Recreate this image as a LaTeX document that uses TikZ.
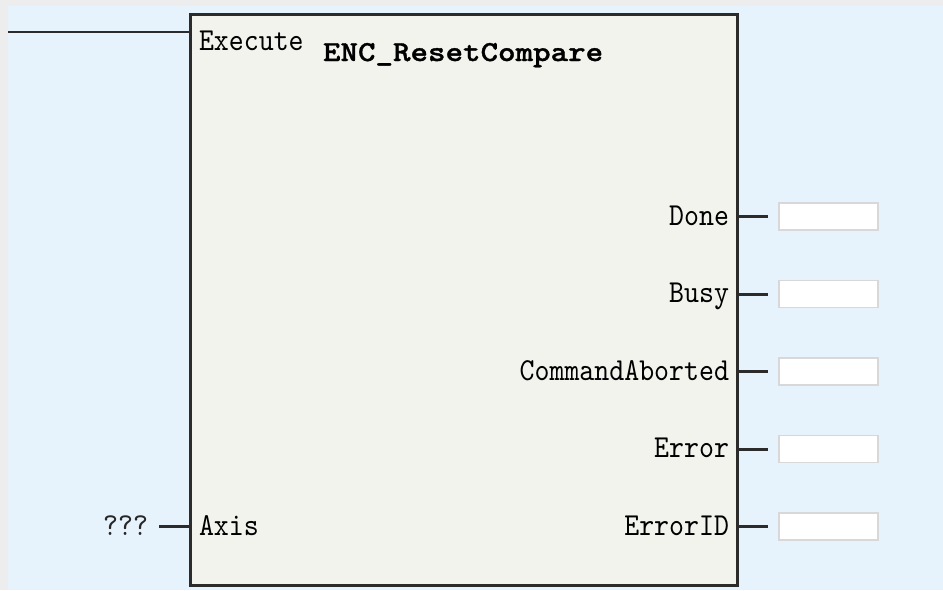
\documentclass[tikz,border=0pt]{standalone}
\usepackage{fontspec}
\newfontfamily\pinfont{lmmono10-regular}[Extension=.otf, FakeStretch=0.89]
\newfontfamily\titlefont{lmmonolt10-bold}[Extension=.otf, FakeStretch=1.15, FakeBold=1.2]
\definecolor{bgblue}{HTML}{E6F3FD}
\definecolor{margingray}{HTML}{EDEDED}
\definecolor{blockfill}{HTML}{F3F3EE}
\definecolor{blockline}{HTML}{2B2B2B}
\definecolor{boxline}{HTML}{D8D8D8}
\tikzset{
  pin/.style={inner sep=0pt, outer sep=0pt, font=\pinfont\fontsize{32}{32}\selectfont, text=black},
  title/.style={inner sep=0pt, outer sep=0pt, font=\titlefont\fontsize{29}{29}\selectfont, text=black},
  fblock/.style={draw=blockline, line width=3pt, fill=blockfill, inner sep=0pt, outer sep=0pt,
    minimum width=547pt, minimum height=571pt, anchor=north west},
  outbox/.style={draw=boxline, line width=1.5pt, fill=white, inner sep=0pt, outer sep=0pt,
    minimum width=99pt, minimum height=27pt, anchor=west},
  wire/.style={line width=2.6pt, draw=blockline},
}
\begin{document}
\begin{tikzpicture}[x=1pt,y=-1pt]
\useasboundingbox (0,0) rectangle (943,590);
\fill[margingray] (0,0) rectangle (943,590);
\fill[bgblue] (8,6) rectangle (943,590);
\node[fblock] (fb) at (190,14) {};
% inputs
\node[pin, anchor=base west] (lExec) at (199,50) {Execute};
\node[title, anchor=base west] (lTitle) at (323,61) {ENC\_ResetCompare};
\coordinate (exin) at (8,32);
\draw[wire] (exin) -- (exin -| fb.west);
\node[pin, anchor=base west] (lAxis) at (199,535) {Axis};
\node[pin, anchor=base east, text=black!85] (qqq) at (148,535) {???};
\coordinate (axin) at (159,526.7);
\draw[wire] (axin) -- (axin -| fb.west);
% outputs
\foreach \nm/\lab/\yy in {Done/Done/216.7, Busy/Busy/294.2, Abort/CommandAborted/371.7, Err/Error/449.2, ErrID/ErrorID/526.7}{
  \node[pin, anchor=base east] (l\nm) at (729,\yy+8.5) {\lab};
  \node[outbox] (b\nm) at (779,\yy) {};
  \draw[wire] (fb.east |- b\nm.west) -- ([xshift=-11pt]b\nm.west);
}
\end{tikzpicture}
\end{document}
